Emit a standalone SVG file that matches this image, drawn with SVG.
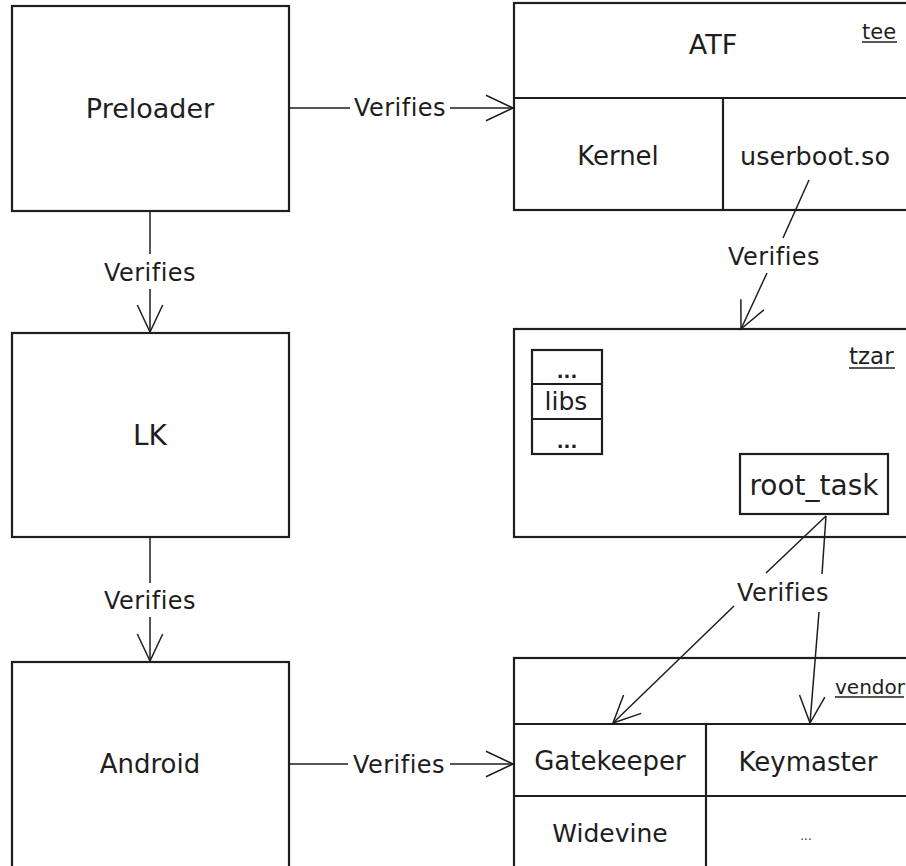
<svg xmlns="http://www.w3.org/2000/svg" width="906" height="866" viewBox="0 0 906 866">
<defs>
<style>
.box{fill:#ffffff;stroke:#1e1e1e;stroke-width:2.2}
.ln{fill:none;stroke:#1e1e1e;stroke-width:2.2}
.conn{fill:none;stroke:#1e1e1e;stroke-width:1.5}
.t{font-family:"DejaVu Sans","Liberation Sans",sans-serif;fill:#1e1e1e;text-anchor:middle}
.lbl{font-family:"DejaVu Sans","Liberation Sans",sans-serif;fill:#1e1e1e;text-anchor:middle;font-size:24px;letter-spacing:0.5px}
.tag{font-family:"DejaVu Sans","Liberation Sans",sans-serif;fill:#1e1e1e;text-anchor:start}
</style>
<marker id="ah" markerUnits="userSpaceOnUse" viewBox="-32 -16 34 32" markerWidth="34" markerHeight="32" refX="0" refY="0" orient="auto" overflow="visible">
<path d="M-27,-12.7 L0,0 L-27,12.7" fill="none" stroke="#1e1e1e" stroke-width="1.5"/>
</marker>
</defs>
<rect width="906" height="866" fill="#ffffff"/>

<g id="preloader">
<rect class="box" x="12" y="6" width="277" height="205"/>
<text class="t" x="150" y="118" font-size="27">Preloader</text>
</g>
<g id="lk">
<rect class="box" x="12" y="333" width="277" height="204"/>
<text class="t" x="150" y="445" font-size="28">LK</text>
</g>
<g id="android">
<rect class="box" x="12" y="662" width="277" height="210"/>
<text class="t" x="150" y="773" font-size="26">Android</text>
</g>

<g id="tee">
<rect class="box" x="514" y="3" width="400" height="207"/>
<line class="ln" x1="514" y1="98" x2="914" y2="98"/>
<line class="ln" x1="723" y1="98" x2="723" y2="210"/>
<text class="t" x="713" y="54" font-size="27">ATF</text>
<text class="tag" x="862" y="39" font-size="21">tee</text>
<line x1="862" y1="42" x2="897" y2="42" stroke="#1e1e1e" stroke-width="1.5"/>
<g id="kernel"><text class="t" x="618" y="165" font-size="26">Kernel</text></g>
<g id="userboot"><text class="t" x="815" y="165" font-size="25.5">userboot.so</text></g>
</g>

<g id="tzar">
<rect class="box" x="514" y="329" width="400" height="208"/>
<text class="tag" x="849" y="364" font-size="23">tzar</text>
<line x1="849" y1="368" x2="895" y2="368" stroke="#1e1e1e" stroke-width="1.5"/>
<g id="libs">
<rect class="box" x="532" y="350" width="70" height="104"/>
<line class="ln" x1="532" y1="384" x2="602" y2="384"/>
<line class="ln" x1="532" y1="419" x2="602" y2="419"/>
<text class="t" x="567" y="378" font-size="18" font-weight="bold">...</text>
<text class="t" x="566" y="410" font-size="25">libs</text>
<text class="t" x="567" y="448" font-size="18" font-weight="bold">...</text>
</g>
<g id="root_task">
<rect class="box" x="740" y="454" width="148" height="60"/>
<text class="t" x="814" y="495" font-size="28">root_task</text>
</g>
</g>

<g id="vendor">
<rect class="box" x="514" y="658" width="400" height="214"/>
<line class="ln" x1="514" y1="724" x2="914" y2="724"/>
<line class="ln" x1="706" y1="724" x2="706" y2="872"/>
<line class="ln" x1="514" y1="796" x2="914" y2="796"/>
<text class="tag" x="835" y="694" font-size="20">vendor</text>
<line x1="835" y1="697" x2="904" y2="697" stroke="#1e1e1e" stroke-width="1.5"/>
<g id="gatekeeper"><text class="t" x="610" y="770" font-size="26">Gatekeeper</text></g>
<g id="keymaster"><text class="t" x="808" y="771" font-size="26">Keymaster</text></g>
<g id="widevine"><text class="t" x="610" y="842" font-size="25">Widevine</text></g>
<g id="vendor_more"><text class="t" x="806" y="840" font-size="12">...</text></g>
</g>

<g id="connectors">
<line class="conn" x1="289" y1="108" x2="350" y2="108"/>
<line class="conn" x1="450" y1="108" x2="513" y2="108" marker-end="url(#ah)"/>
<text class="lbl" x="400" y="116">Verifies</text>

<line class="conn" x1="289" y1="764" x2="348" y2="764"/>
<line class="conn" x1="450" y1="764" x2="513" y2="764" marker-end="url(#ah)"/>
<text class="lbl" x="399" y="773">Verifies</text>

<line class="conn" x1="150" y1="211" x2="150" y2="254"/>
<line class="conn" x1="150" y1="289" x2="150" y2="332" marker-end="url(#ah)"/>
<text class="lbl" x="150" y="281">Verifies</text>

<line class="conn" x1="150" y1="538" x2="150" y2="583"/>
<line class="conn" x1="150" y1="617" x2="150" y2="661" marker-end="url(#ah)"/>
<text class="lbl" x="150" y="609">Verifies</text>

<line class="conn" x1="809" y1="180" x2="783" y2="238"/>
<line class="conn" x1="767" y1="273" x2="741" y2="329" marker-end="url(#ah)"/>
<text class="lbl" x="774" y="265">Verifies</text>

<line class="conn" x1="826" y1="516" x2="766" y2="573"/>
<line class="conn" x1="734" y1="606" x2="613" y2="723" marker-end="url(#ah)"/>
<line class="conn" x1="826" y1="516" x2="822" y2="574"/>
<line class="conn" x1="819" y1="612" x2="810" y2="723" marker-end="url(#ah)"/>
<text class="lbl" x="783" y="601">Verifies</text>
</g>
</svg>
